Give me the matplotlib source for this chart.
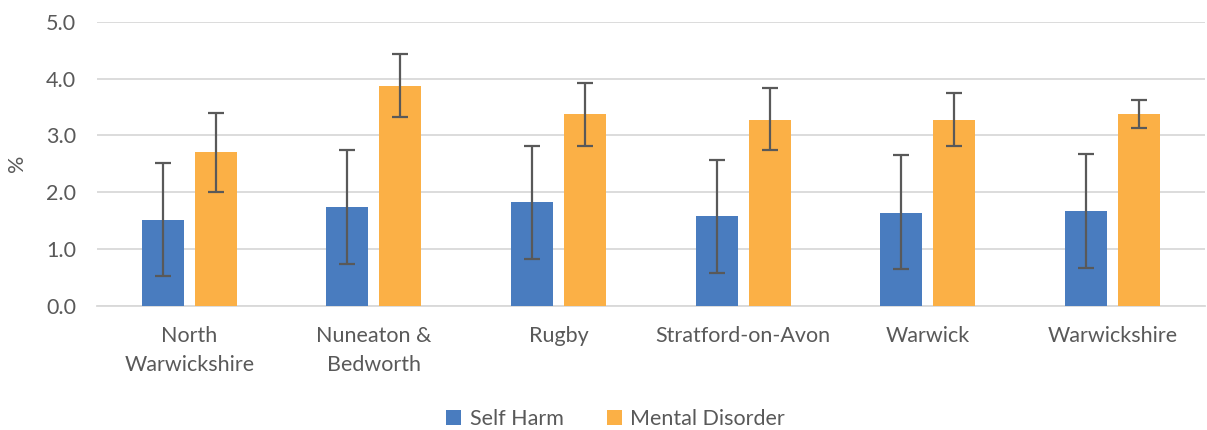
import numpy as np
import matplotlib
matplotlib.use("Agg")
import matplotlib.pyplot as plt

plt.rcParams["font.family"] = ["Lato", "DejaVu Sans"]

areas = ["North\nWarwickshire", "Nuneaton &\nBedworth", "Rugby",
         "Stratford-on-Avon", "Warwick", "Warwickshire"]
self_harm = [1.51, 1.74, 1.82, 1.57, 1.64, 1.67]
self_harm_lo = [0.52, 0.74, 0.82, 0.57, 0.64, 0.67]
self_harm_hi = [2.52, 2.74, 2.82, 2.57, 2.65, 2.67]
mental = [2.70, 3.88, 3.37, 3.28, 3.27, 3.38]
mental_lo = [2.01, 3.33, 2.82, 2.74, 2.81, 3.13]
mental_hi = [3.39, 4.44, 3.92, 3.83, 3.74, 3.62]

BLUE = "#497cbf"
ORANGE = "#fbb046"
GREY = "#595959"
FS = 15.5

x = np.arange(len(areas))
w = 0.227
off = 0.1435

fig = plt.figure(figsize=(12.07, 4.30), dpi=100)
ax = fig.add_axes([0.0804, 0.2895, 0.9176, 0.6593])

sh_err = [np.array(self_harm) - np.array(self_harm_lo), np.array(self_harm_hi) - np.array(self_harm)]
md_err = [np.array(mental) - np.array(mental_lo), np.array(mental_hi) - np.array(mental)]

ax.bar(x - off, self_harm, w, color=BLUE, label="Self Harm", zorder=3)
ax.bar(x + off, mental, w, color=ORANGE, label="Mental Disorder", zorder=3)
ax.errorbar(x - off, self_harm, yerr=sh_err, fmt="none", ecolor=GREY,
            elinewidth=1.6, capsize=6, capthick=1.6, zorder=4)
ax.errorbar(x + off, mental, yerr=md_err, fmt="none", ecolor=GREY,
            elinewidth=1.6, capsize=6, capthick=1.6, zorder=4)

ax.set_xlim(-0.5, len(areas) - 0.5)
ax.set_ylim(0, 5)
ax.set_yticks(np.arange(0, 5.01, 1.0))
ax.set_yticklabels([f"{v:.1f}" for v in np.arange(0, 5.01, 1.0)])
ax.yaxis.grid(True, color="#d9d9d9", linewidth=1.3, zorder=0)
ax.set_axisbelow(True)
for s in ["top", "right", "left"]:
    ax.spines[s].set_visible(False)
ax.spines["bottom"].set_color("#d9d9d9")
ax.spines["bottom"].set_linewidth(1.3)
ax.tick_params(axis="both", length=0, labelsize=FS, colors=GREY)
ax.tick_params(axis="y", pad=15)
ax.tick_params(axis="x", pad=15)
ax.set_xticks(x)
ax.set_xticklabels(areas, linespacing=1.55)

ax.set_ylabel("%", fontsize=FS, color=GREY, labelpad=14)

fig.legend(*ax.get_legend_handles_labels(), loc="center", bbox_to_anchor=(0.51, 0.025),
           ncol=2, frameon=False, fontsize=FS, labelcolor=GREY,
           handlelength=0.7, handleheight=0.7, columnspacing=2.0, handletextpad=0.4)

fig.savefig("out.png", dpi=100)
